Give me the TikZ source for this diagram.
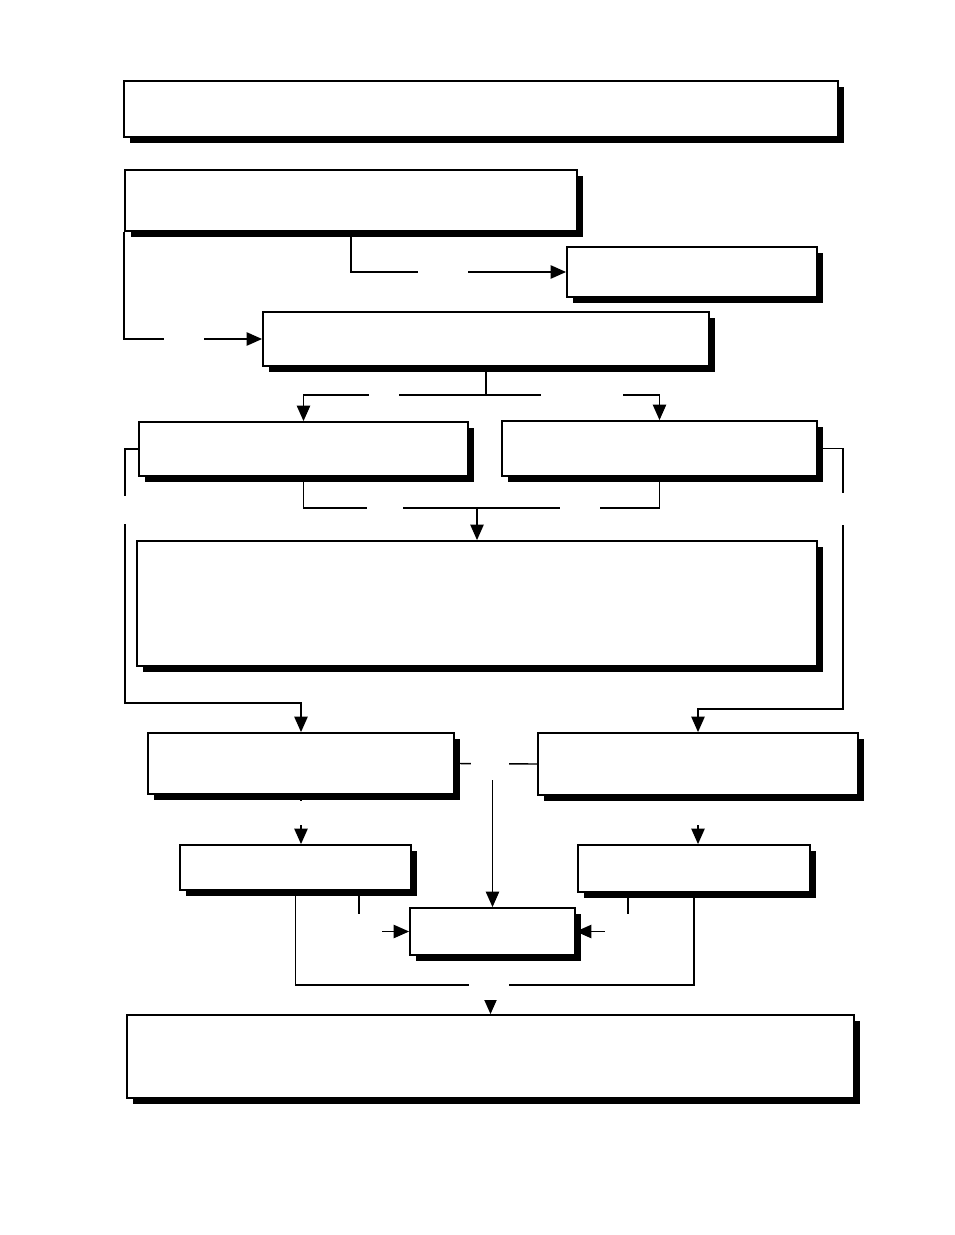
\documentclass[tikz,border=0pt]{standalone}
\usetikzlibrary{arrows.meta,calc,fit,shadows}

\tikzset{
  box/.style={draw, line width=1.3pt, fill=white, inner sep=0pt,
    drop shadow={shadow xshift=0.16cm, shadow yshift=-0.16cm, fill=black, opacity=1}},
  line/.style={line width=1pt},
  arrow/.style={line width=1pt, -{Triangle[length=11pt,width=9.5pt]}},
  blank/.style={fill=white, inner sep=0pt, minimum width=#1},
}

\begin{document}
\begin{tikzpicture}[x=0.025cm, y=-0.025cm]
\useasboundingbox (0,0) rectangle (954,1235);

% boxes
\node[box, fit={(124,81) (838,137)}] (b1) {};
\node[box, fit={(125,170) (577,231)}] (b2) {};
\node[box, fit={(567,247) (817,297)}] (b3) {};
\node[box, fit={(263,312) (709,366)}] (b4) {};
\node[box, fit={(139,422) (468,476)}] (b5) {};
\node[box, fit={(502,421) (817,476)}] (b6) {};
\node[box, fit={(137,541) (817,666)}] (b7) {};
\node[box, fit={(148,733) (454,794)}] (b8) {};
\node[box, fit={(538,733) (858,795)}] (b9) {};
\node[box, fit={(180,845) (411,890)}] (b10) {};
\node[box, fit={(578,845) (810,892)}] (b11) {};
\node[box, fit={(410,908) (575,955)}] (b12) {};
\node[box, fit={(127,1015) (854,1098)}] (b13) {};

% connectors
\draw[arrow] (b2.south) |- (b3.west);
\draw[arrow] (b2.south west) |- (b4.west);
\draw[arrow] (b4.south) -- ++(0,28) -| (b5.north);
\draw[arrow] (b4.south) -- ++(0,28) -| (b6.north);
\draw[line] (b5.south) -- ++(0,31) -| (b6.south);
\draw[arrow] (b7.north |- 0,507) -- (b7.north);
\draw[arrow] (b5.west) -- ++(-13,0) |- ($(b8.north)+(0,-29)$) -- (b8.north);
\draw[arrow] (b6.east) -- ++(25,0) |- ($(b9.north)+(0,-23)$) -- (b9.north);
\draw[line] (b8.east) -- (b9.west);
\draw[arrow] (b8.east -| b12.north) -- (b12.north);
\draw[arrow] (b8.south) -- (b8.south |- b10.north);
\draw[arrow] (b9.south) -- (b9.south |- b11.north);
\draw[arrow] (359,0 |- b10.south) |- (b12.west);
\draw[arrow] (628,0 |- b11.south) |- (b12.east);
\draw[line] (b10.south) -- ++(0,94) -| (b11.south);
\draw[arrow] (b13.north |- 0,984) -- (b13.north);

% label gaps
\node[blank=36, minimum height=8] (g1) at (443,271) {};
\node[blank=29, minimum height=8] (g2) at (184,339) {};
\node[blank=22, minimum height=8] (g3) at (384,394) {};
\node[blank=59, minimum height=8] (g4) at (582,394) {};
\node[blank=25, minimum height=8] (g5) at (385,507) {};
\node[blank=28, minimum height=8] (g6) at (580,507) {};
\node[blank=8, minimum height=20] (g7) at (126,510) {};
\node[blank=8, minimum height=23] (g8) at (842,509) {};
\node[blank=27, minimum height=22] (g9) at (490,765) {};
\node[blank=8, minimum height=17] (g10) at (301,813) {};
\node[blank=8, minimum height=17] (g11) at (698,813) {};
\node[blank=27, minimum height=21] (g12) at (363,929) {};
\node[blank=27, minimum height=22] (g13) at (624,929) {};
\node[blank=28, minimum height=18] (g14) at (489,987) {};
\end{tikzpicture}
\end{document}
